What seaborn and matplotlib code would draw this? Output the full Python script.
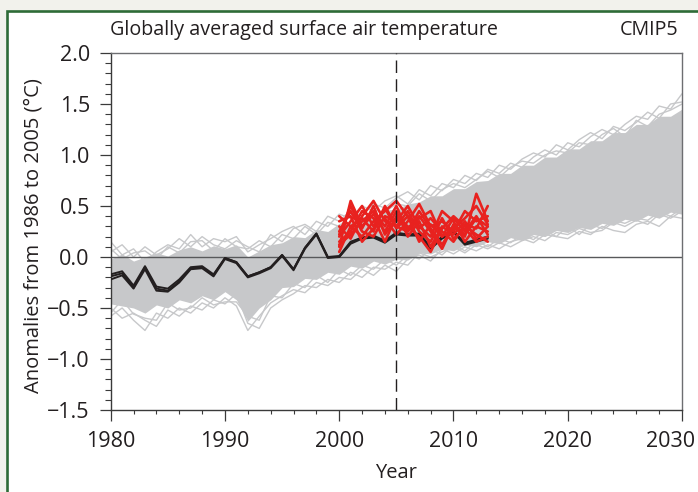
import matplotlib
matplotlib.use("Agg")
import numpy as np
import pandas as pd
import seaborn as sns
import matplotlib.pyplot as plt
import matplotlib.transforms as mtransforms
from matplotlib.patches import Rectangle
from matplotlib.ticker import MultipleLocator, FuncFormatter

# ---------------- data ----------------
years = list(range(1980, 2031))
obs_years = list(range(1980, 2014))
fc_years = list(range(2000, 2014))

# dense part of the CMIP5 ensemble (lower / upper edge per year)
gray_core_lo = [-0.46, -0.48, -0.50, -0.55, -0.47, -0.50, -0.42, -0.45, -0.38, -0.42,
                -0.34, -0.42, -0.63, -0.50, -0.42, -0.30, -0.29, -0.21, -0.22, -0.15,
                -0.17, -0.09, -0.11, -0.04, -0.07, -0.02, -0.03, 0.04, 0.03, 0.08,
                0.06, 0.12, 0.10, 0.15, 0.13, 0.19, 0.16, 0.22, 0.20, 0.26,
                0.24, 0.29, 0.27, 0.33, 0.31, 0.37, 0.35, 0.41, 0.38, 0.44, 0.42]
gray_core_hi = [-0.02, 0.03, -0.04, 0.00, 0.04, 0.01, 0.07, 0.10, 0.06, 0.11,
                0.08, 0.12, 0.00, 0.06, 0.12, 0.14, 0.20, 0.19, 0.27, 0.25,
                0.33, 0.34, 0.40, 0.39, 0.46, 0.47, 0.52, 0.54, 0.60, 0.60,
                0.67, 0.67, 0.74, 0.75, 0.82, 0.82, 0.90, 0.90, 0.98, 0.98,
                1.06, 1.06, 1.14, 1.14, 1.22, 1.22, 1.30, 1.30, 1.38, 1.38, 1.45]

# individual ensemble members wandering outside the dense band
gray_upper_a = [0.15, 0.02, 0.08, -0.05, 0.05, 0.12, 0.08, 0.22, 0.10, 0.18,
                0.15, 0.20, 0.05, 0.12, 0.18, 0.25, 0.30, 0.22, 0.35, 0.30,
                0.42, 0.38, 0.50, 0.45, 0.55, 0.60, 0.52, 0.66, 0.60, 0.72,
                0.68, 0.80, 0.75, 0.86, 0.82, 0.92, 0.88, 0.98, 1.05, 1.00,
                1.12, 1.08, 1.18, 1.25, 1.20, 1.30, 1.38, 1.35, 1.48, 1.45, 1.60]
gray_upper_b = [0.05, 0.12, 0.00, 0.10, 0.02, 0.08, 0.18, 0.10, 0.20, 0.12,
                0.08, 0.16, 0.10, 0.05, 0.22, 0.15, 0.28, 0.32, 0.25, 0.40,
                0.35, 0.46, 0.40, 0.52, 0.48, 0.58, 0.64, 0.56, 0.70, 0.65,
                0.76, 0.72, 0.82, 0.78, 0.90, 0.86, 0.96, 1.02, 0.98, 1.10,
                1.05, 1.15, 1.22, 1.16, 1.28, 1.24, 1.32, 1.42, 1.36, 1.50, 1.52]
gray_upper_c = [0.08, -0.02, 0.04, 0.06, -0.02, 0.10, 0.04, 0.15, 0.16, 0.06,
                0.18, 0.10, 0.08, 0.16, 0.10, 0.22, 0.18, 0.30, 0.22, 0.34,
                0.30, 0.42, 0.36, 0.46, 0.44, 0.52, 0.50, 0.62, 0.55, 0.66,
                0.72, 0.68, 0.76, 0.84, 0.78, 0.88, 0.94, 0.92, 1.00, 1.04,
                1.02, 1.12, 1.10, 1.20, 1.26, 1.18, 1.34, 1.28, 1.40, 1.44, 1.50]
gray_lower_a = [-0.58, -0.50, -0.62, -0.72, -0.55, -0.60, -0.50, -0.55, -0.45, -0.50,
                -0.40, -0.48, -0.72, -0.58, -0.45, -0.38, -0.32, -0.35, -0.25, -0.28,
                -0.20, -0.22, -0.12, -0.18, -0.08, -0.14, -0.02, 0.02, -0.04, 0.08,
                0.03, 0.10, 0.06, 0.12, 0.08, 0.15, 0.18, 0.14, 0.22, 0.20,
                0.18, 0.25, 0.22, 0.30, 0.26, 0.24, 0.32, 0.35, 0.30, 0.40, 0.38]
gray_lower_b = [-0.50, -0.60, -0.55, -0.62, -0.68, -0.52, -0.58, -0.48, -0.52, -0.42,
                -0.46, -0.36, -0.65, -0.70, -0.50, -0.42, -0.36, -0.28, -0.30, -0.22,
                -0.25, -0.15, -0.20, -0.10, -0.12, -0.05, -0.08, 0.04, 0.00, 0.05,
                0.10, 0.04, 0.12, 0.08, 0.14, 0.10, 0.16, 0.20, 0.16, 0.24,
                0.22, 0.28, 0.24, 0.26, 0.34, 0.30, 0.36, 0.32, 0.42, 0.38, 0.45]
gray_lower_c = [-0.55, -0.42, -0.56, -0.60, -0.62, -0.45, -0.52, -0.50, -0.40, -0.47,
                -0.44, -0.44, -0.58, -0.62, -0.38, -0.40, -0.26, -0.30, -0.18, -0.25,
                -0.12, -0.18, -0.08, -0.12, -0.02, -0.08, 0.02, -0.02, 0.08, 0.02,
                0.12, 0.06, 0.16, 0.10, 0.18, 0.14, 0.22, 0.17, 0.26, 0.20,
                0.30, 0.22, 0.32, 0.28, 0.36, 0.33, 0.38, 0.36, 0.44, 0.40, 0.48]

# observations (three nearly overlapping datasets)
obs_a = [-0.19, -0.16, -0.30, -0.10, -0.31, -0.33, -0.24, -0.11, -0.10, -0.18,
         -0.01, -0.05, -0.19, -0.15, -0.10, 0.02, -0.12, 0.09, 0.23, 0.00,
         0.00, 0.14, 0.19, 0.20, 0.15, 0.23, 0.22, 0.22, 0.09, 0.19,
         0.25, 0.13, 0.16, 0.19]
obs_b = [-0.17, -0.14, -0.28, -0.09, -0.29, -0.31, -0.22, -0.10, -0.09, -0.17,
         -0.01, -0.05, -0.19, -0.15, -0.10, 0.02, -0.12, 0.09, 0.23, 0.00,
         0.01, 0.15, 0.19, 0.21, 0.16, 0.24, 0.22, 0.23, 0.10, 0.20,
         0.25, 0.14, 0.17, 0.20]
obs_c = [-0.22, -0.18, -0.31, -0.12, -0.33, -0.34, -0.25, -0.12, -0.11, -0.19,
         -0.02, -0.06, -0.20, -0.16, -0.11, 0.01, -0.13, 0.08, 0.22, -0.01,
         0.00, 0.13, 0.18, 0.19, 0.14, 0.22, 0.21, 0.21, 0.08, 0.18,
         0.24, 0.12, 0.15, 0.18]

# initialised (decadal) predictions
red_1 = [0.10, 0.55, 0.30, 0.42, 0.25, 0.45, 0.20, 0.35, 0.10, 0.30, 0.22, 0.35, 0.18, 0.30]
red_2 = [0.20, 0.35, 0.50, 0.30, 0.48, 0.28, 0.40, 0.15, 0.32, 0.20, 0.38, 0.25, 0.40, 0.22]
red_3 = [0.30, 0.18, 0.40, 0.55, 0.35, 0.30, 0.25, 0.45, 0.28, 0.12, 0.30, 0.20, 0.62, 0.35]
red_4 = [0.05, 0.30, 0.20, 0.35, 0.45, 0.55, 0.40, 0.28, 0.38, 0.25, 0.15, 0.32, 0.28, 0.50]
red_5 = [0.25, 0.45, 0.25, 0.20, 0.40, 0.35, 0.50, 0.30, 0.20, 0.45, 0.35, 0.15, 0.30, 0.25]
red_6 = [0.15, 0.25, 0.45, 0.38, 0.15, 0.40, 0.30, 0.20, 0.05, 0.28, 0.40, 0.30, 0.22, 0.15]
red_7 = [0.35, 0.40, 0.15, 0.28, 0.38, 0.22, 0.35, 0.52, 0.30, 0.35, 0.25, 0.45, 0.35, 0.40]
red_8 = [0.12, 0.22, 0.35, 0.45, 0.30, 0.50, 0.25, 0.38, 0.45, 0.20, 0.28, 0.38, 0.50, 0.32]
red_9 = [0.40, 0.30, 0.38, 0.25, 0.50, 0.30, 0.45, 0.25, 0.15, 0.38, 0.18, 0.28, 0.15, 0.20]
red_10 = [0.22, 0.50, 0.28, 0.50, 0.22, 0.38, 0.28, 0.40, 0.25, 0.08, 0.32, 0.22, 0.38, 0.30]

title_text = "Globally averaged surface air temperature"
tag_text = "CMIP5"
x_label = "Year"
y_label = "Anomalies from 1986 to 2005 (°C)"

# ---------------- build long tables ----------------
def long_table(x, series):
    rows = []
    for name, vals in series.items():
        for xx, vv in zip(x, vals):
            rows.append((name, xx, vv))
    return pd.DataFrame(rows, columns=["member", "year", "value"])

gray_df = long_table(years, {"ua": gray_upper_a, "ub": gray_upper_b, "uc": gray_upper_c,
                             "la": gray_lower_a, "lb": gray_lower_b, "lc": gray_lower_c})
obs_df = long_table(obs_years, {"a": obs_a, "b": obs_b, "c": obs_c})
red_df = long_table(fc_years, {f"r{i}": s for i, s in enumerate(
    [red_1, red_2, red_3, red_4, red_5, red_6, red_7, red_8, red_9, red_10])})

# ---------------- style ----------------
sns.set_theme(style="ticks")
plt.rcParams['font.family'] = ['Open Sans', 'DejaVu Sans']

W, H = 698, 492
fig = plt.figure(figsize=(W / 100, H / 100), dpi=100)
fig.patch.set_facecolor('#f2f2ec')

frame = Rectangle((7.5 / W, -0.2), 1.5, 0.2 + (1 - 10.5 / H),
                  transform=fig.transFigure, facecolor='white',
                  edgecolor='#2e6b37', linewidth=1.9, zorder=-10)
fig.patches.append(frame)

left, right, top, bottom = 110.7, 682.0, 53.0, 410.0
ax = fig.add_axes([left / W, 1 - bottom / H, (right - left) / W, (bottom - top) / H])
ax.set_facecolor('white')

GRAY = '#c7c8ca'
ax.fill_between(years, gray_core_lo, gray_core_hi, color=GRAY, lw=0, zorder=1)
sns.lineplot(data=gray_df, x="year", y="value", units="member", estimator=None,
             color=GRAY, lw=1.0, ax=ax, legend=False, zorder=1.5)
ax.axhline(0, color='#58595b', lw=1.0, zorder=2)
sns.lineplot(data=obs_df, x="year", y="value", units="member", estimator=None,
             color='#231f20', lw=1.4, ax=ax, legend=False, zorder=3)
sns.lineplot(data=red_df, x="year", y="value", units="member", estimator=None,
             color='#e8221f', lw=1.9, ax=ax, legend=False, zorder=4)
ax.axvline(2005, color='#231f20', lw=1.0, dashes=(9, 4.5), zorder=5)

ax.set_xlim(1980, 2030)
ax.set_ylim(-1.5, 2.0)
ax.xaxis.set_major_locator(MultipleLocator(10))
ax.xaxis.set_minor_locator(MultipleLocator(2))
ax.yaxis.set_major_locator(MultipleLocator(0.5))
ax.yaxis.set_minor_locator(MultipleLocator(0.1))
ax.yaxis.set_major_formatter(FuncFormatter(lambda v, p: f"{v:.1f}".replace("-", "\u2212")))

for s in ax.spines.values():
    s.set_color('#6d6e71')
    s.set_linewidth(1.0)
ax.spines['left'].set_color('#3a3a3a')
ax.spines['bottom'].set_color('#3a3a3a')

ax.tick_params(axis='both', which='major', direction='out', length=8, width=0.9,
               color='#3a3a3a', labelsize=15.5, labelcolor='#231f20', pad=7)
ax.tick_params(axis='x', which='minor', direction='out', length=3, width=0.8, color='#3a3a3a')
ax.tick_params(axis='y', which='minor', direction='out', length=4.5, width=0.8, color='#3a3a3a')
ax.tick_params(axis='x', which='major', pad=7)

ax.set_xlabel(x_label, fontsize=14.5, color='#231f20')
ax.set_ylabel(y_label, fontsize=14.5, color='#231f20')
ax.xaxis.set_label_coords(0.5, (bottom - 463) / (bottom - top))
ax.yaxis.set_label_coords((44 - left) / (right - left), 0.49)

fig.canvas.draw()
# last x tick label sits left of its tick so it stays inside the figure
for lab in ax.get_xticklabels():
    if lab.get_text() == "2030":
        lab.set_transform(lab.get_transform() +
                          mtransforms.ScaledTranslation(-11 / 100, 0, fig.dpi_scale_trans))

fig.text(110 / W, 1 - 30 / H, title_text, ha='left', va='center',
         fontsize=14.2, color='#231f20')
fig.text(678 / W, 1 - 30 / H, tag_text, ha='right', va='center',
         fontsize=14.2, color='#231f20')

fig.savefig("out.png", dpi=100, facecolor=fig.get_facecolor())
